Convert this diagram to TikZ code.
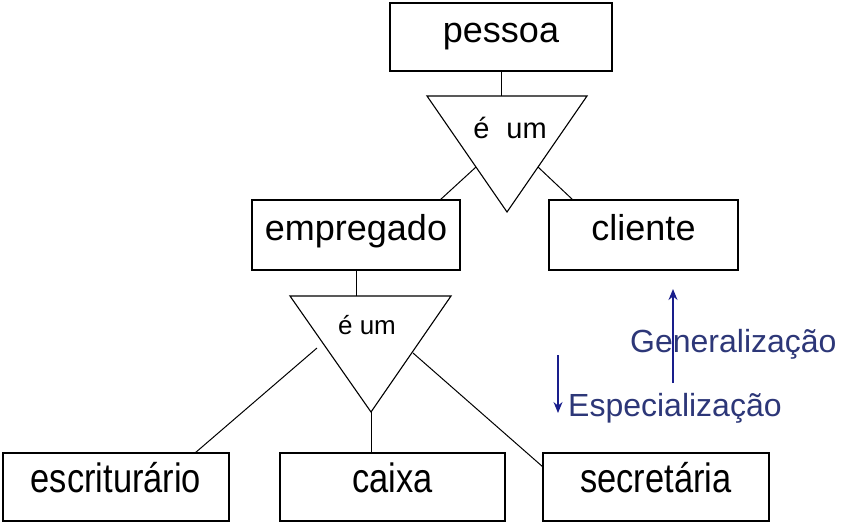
\documentclass[tikz,border=0pt]{standalone}
\usepackage{fontspec}
\setmainfont{Liberation Sans}
\usetikzlibrary{arrows.meta}
\definecolor{arrowblue}{RGB}{25,30,140}
\definecolor{textblue}{RGB}{45,55,120}
\tikzset{
  entity/.style={draw=black, line width=1.3pt, inner sep=0pt, minimum height=68pt,
    font=\fontsize{36}{36}\selectfont, text height=30pt, text depth=20pt},
  lowentity/.style={entity, font=\fontsize{41}{41}\selectfont},
  isa/.style={draw=black, line width=1.1pt},
  conn/.style={draw=black, line width=1pt},
  dirarrow/.style={draw=arrowblue, line width=1.4pt, -{Stealth[length=11pt,width=9pt]}},
  dirlabel/.style={text=textblue, inner sep=0pt, font=\fontsize{32}{32}\selectfont}
}
\newcommand{\cond}[1]{\scalebox{0.84}[1]{#1}}
\begin{document}
\begin{tikzpicture}[x=1pt,y=-1pt]
\useasboundingbox (0,0) rectangle (850,528);
% entities
\node[entity, minimum width=222pt] (pessoa) at (501,37) {pessoa};
\node[entity, minimum width=208pt, minimum height=70pt] (empregado) at (356,235) {empregado};
\node[entity, minimum width=189pt, minimum height=70pt] (cliente) at (643.5,235) {cliente};
\node[lowentity, minimum width=226pt] (escr) at (116,487) {\cond{escriturário}};
\node[lowentity, minimum width=225pt] (caixa) at (392.5,487) {\cond{caixa}};
\node[lowentity, minimum width=226pt] (secr) at (656,487) {\cond{secretária}};
% top ISA triangle
\coordinate (t1l) at (427,96);
\coordinate (t1r) at (587,96);
\coordinate (t1b) at (507,212);
\draw[isa] (t1l) -- (t1r) -- (t1b) -- cycle;
\node[inner sep=0pt, font=\fontsize{29}{29}\selectfont] (isa1) at (510,128) {é\hspace{17pt}um};
\draw[conn] (pessoa.south) -- (pessoa.south |- t1l);
\coordinate (t1sl) at (476,167);
\coordinate (t1sr) at (538,167);
\coordinate (emptop) at (440,200);
\coordinate (clitop) at (573,200);
\draw[conn] (t1sl) -- (emptop);
\draw[conn] (t1sr) -- (clitop);
% lower ISA triangle
\coordinate (t2l) at (290,296);
\coordinate (t2r) at (451,296);
\coordinate (t2b) at (371,412);
\draw[isa] (t2l) -- (t2r) -- (t2b) -- cycle;
\node[inner sep=0pt, font=\fontsize{26}{26}\selectfont] (isa2) at (367,325) {é um};
\draw[conn] (empregado.south) -- (empregado.south |- t2l);
\coordinate (t2sl) at (317,348);
\coordinate (t2sr) at (413,353);
\coordinate (escrtop) at (195,453);
\coordinate (secrleft) at (543,467);
\coordinate (caixatop) at (371,453);
\draw[conn] (t2sl) -- (escrtop);
\draw[conn] (t2sr) -- (secrleft);
\draw[conn] (t2b) -- (caixatop);
% generalization / specialization
\node[dirlabel, anchor=base west] (gen) at (630,352) {Generalização};
\node[dirlabel, anchor=base west] (esp) at (568,416) {Especialização};
\coordinate (genfrom) at (673,383);
\coordinate (gento) at (673,289);
\coordinate (espfrom) at (558,355);
\coordinate (espto) at (558,413);
\draw[dirarrow] (genfrom) -- (gento);
\draw[dirarrow] (espfrom) -- (espto);
\end{tikzpicture}
\end{document}
